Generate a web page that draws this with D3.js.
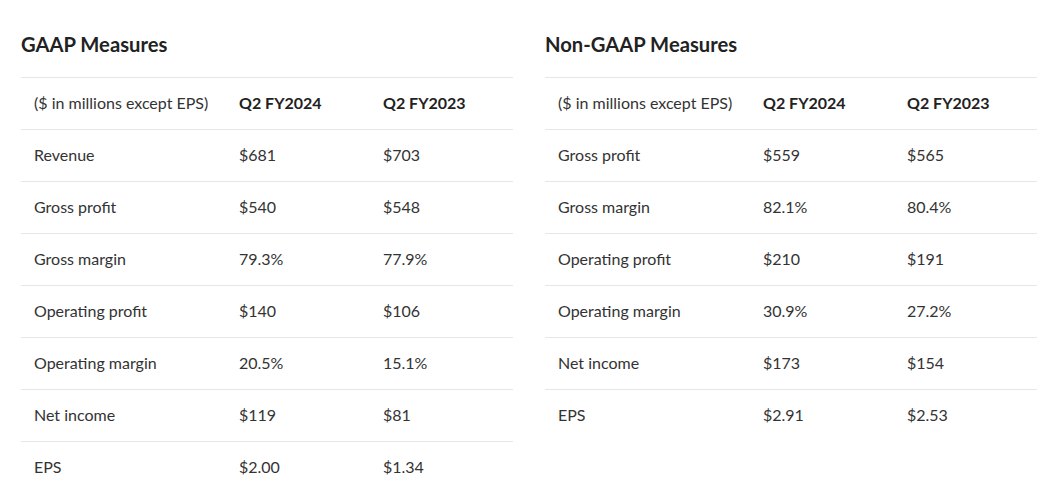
<!DOCTYPE html>
<html>
<head>
<meta charset="utf-8">
<script src="https://cdn.jsdelivr.net/npm/d3@7"></script>
<style>
  body { margin: 0; background: #fff; }
  svg { display: block; font-family: Lato, "Open Sans", sans-serif; }
</style>
</head>
<body>
<svg id="chart" width="1058" height="499"></svg>
<script>
// 표 데이터
var headers = ["($ in millions except EPS)", "Q2 FY2024", "Q2 FY2023"];

var gaapRows = ["Revenue", "Gross profit", "Gross margin", "Operating profit", "Operating margin", "Net income", "EPS"];
var gaapFY2024 = ["$681", "$540", "79.3%", "$140", "20.5%", "$119", "$2.00"];
var gaapFY2023 = ["$703", "$548", "77.9%", "$106", "15.1%", "$81", "$1.34"];

var nonGaapRows = ["Gross profit", "Gross margin", "Operating profit", "Operating margin", "Net income", "EPS"];
var nonGaapFY2024 = ["$559", "82.1%", "$210", "30.9%", "$173", "$2.91"];
var nonGaapFY2023 = ["$565", "80.4%", "$191", "27.2%", "$154", "$2.53"];

var svg = d3.select("#chart");

// 표 하나 그리기
function make_table(x0, title, rows, v1, v2) {
    var g = svg.append("g").attr("transform", "translate(" + x0 + ",0)");
    var width = 492;

    g.append("text")
     .attr("x", 0).attr("y", 52)
     .attr("font-size", 20.2).attr("font-weight", 700)
     .attr("fill", "#222")
     .text(title);

    var all = ["__header"].concat(rows);
    var y = d3.scaleBand().domain(all).range([77, 77 + 52 * all.length]);
    var x = d3.scaleOrdinal().domain([0, 1, 2]).range([13, 218, 362]);

    var data = all.map(function (r, i) {
        if (i == 0) return { key: r, cells: headers, head: true };
        return { key: r, cells: [r, v1[i - 1], v2[i - 1]], head: false };
    });

    var row = g.selectAll("g.row").data(data).enter()
               .append("g").attr("class", "row")
               .attr("transform", function (d) { return "translate(0," + y(d.key) + ")"; });

    row.append("line")
       .attr("x1", 0).attr("x2", width)
       .attr("y1", 0.5).attr("y2", 0.5)
       .attr("stroke", "#e6e6e6").attr("stroke-width", 1);

    row.selectAll("text").data(function (d) {
            return d.cells.map(function (c, j) { return { t: c, j: j, head: d.head }; });
        }).enter()
       .append("text")
       .attr("x", function (d) { return x(d.j); })
       .attr("y", y.bandwidth() / 2 + 0.5)
       .attr("dy", "0.35em")
       .attr("font-size", 16)
       .attr("font-weight", function (d) { return d.head && d.j > 0 ? 700 : 400; })
       .attr("fill", function (d) { return d.head && d.j > 0 ? "#222" : "#333"; })
       .text(function (d) { return d.t; });
}

make_table(21, "GAAP Measures", gaapRows, gaapFY2024, gaapFY2023);
make_table(545, "Non-GAAP Measures", nonGaapRows, nonGaapFY2024, nonGaapFY2023);
</script>
</body>
</html>
